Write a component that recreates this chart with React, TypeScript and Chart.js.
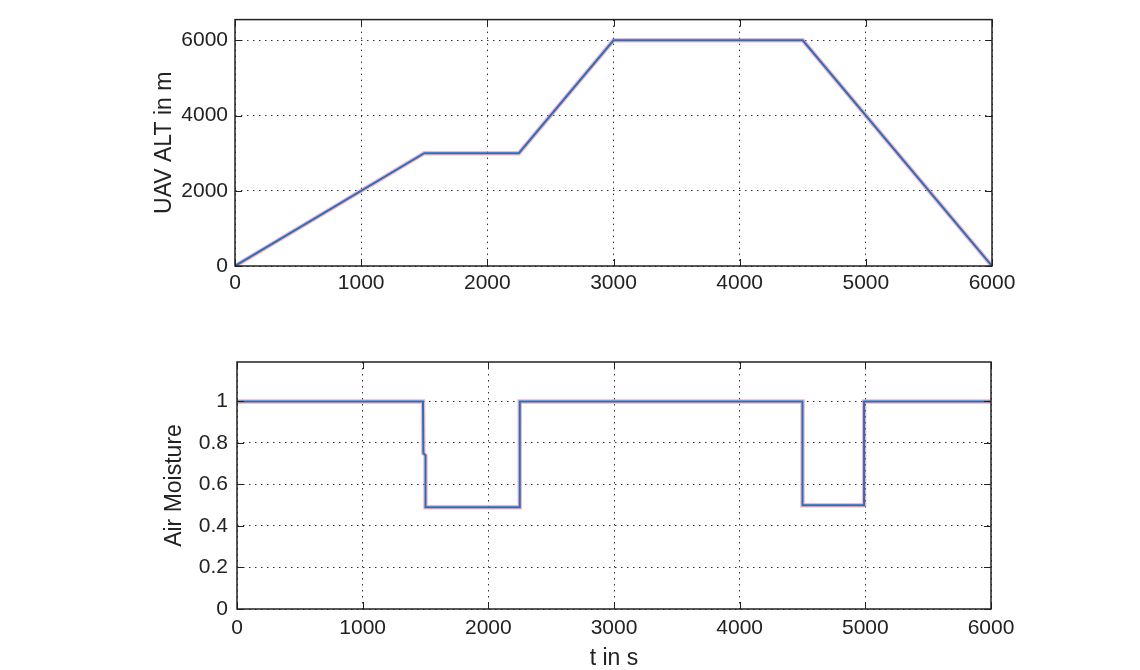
import React, { useEffect, useRef } from 'react';
import { Chart, registerables } from 'chart.js';

Chart.register(...registerables);

// ---- data ----
const timeTicks = [0, 1000, 2000, 3000, 4000, 5000, 6000];
const altTicks = [0, 2000, 4000, 6000];
const moistTicks = [0, 0.2, 0.4, 0.6, 0.8, 1];

const altTime = [0, 1500, 2250, 3000, 4500, 6000];
const altValues = [0, 3000, 3000, 6000, 6000, 0];
const altRefValues = [0, 3000, 3000, 6000, 6000, 0];

const moistTime = [0, 1480, 1483, 1500, 1500, 2250, 2250, 4500, 4500, 4990, 4990, 6000];
const moistValues = [1, 1, 0.75, 0.74, 0.49, 0.49, 1, 1, 0.5, 0.5, 1, 1];
const moistRefValues = [1, 1, 0.75, 0.74, 0.49, 0.49, 1, 1, 0.5, 0.5, 1, 1];

const FONT = "'Liberation Sans', Arial, sans-serif";
const BLUE = '#1f72c4';
const PINK = 'rgba(240, 90, 110, 0.45)';

const framePlugin = {
  id: 'matlabFrame',
  afterDraw(chart: any) {
    const { ctx, chartArea: a, scales } = chart;
    ctx.save();
    ctx.strokeStyle = '#222';
    ctx.lineWidth = 1;
    const tl = 7;
    ctx.beginPath();
    for (const t of scales.x.ticks) {
      const px = Math.round(scales.x.getPixelForValue(t.value)) + 0.5;
      ctx.moveTo(px, a.bottom);
      ctx.lineTo(px, a.bottom - tl);
      ctx.moveTo(px, a.top);
      ctx.lineTo(px, a.top + tl);
    }
    for (const t of scales.y.ticks) {
      const py = Math.round(scales.y.getPixelForValue(t.value)) + 0.5;
      ctx.moveTo(a.left, py);
      ctx.lineTo(a.left + tl, py);
      ctx.moveTo(a.right, py);
      ctx.lineTo(a.right - tl, py);
    }
    ctx.stroke();
    ctx.lineWidth = 1.5;
    ctx.strokeRect(a.left, a.top, a.right - a.left, a.bottom - a.top);
    ctx.restore();
  },
};

function makePoints(xs: number[], ys: number[]) {
  return xs.map((x, i) => ({ x, y: ys[i] }));
}

type PanelCfg = {
  xs: number[];
  ys: number[];
  refYs: number[];
  yTicks: number[];
  yMax: number;
  yTitle: string;
  xTitle: string | null;
  padLeft: number;
  yAxisWidth: number;
  padTop: number;
  padRight: number;
  xAxisHeight: number;
  height: number;
  yTickPad: number;
  xTickPad: number;
};

function Panel({ cfg, top }: { cfg: PanelCfg; top: number }) {
  const ref = useRef<HTMLCanvasElement | null>(null);
  useEffect(() => {
    if (!ref.current) return;
    const chart = new Chart(ref.current, {
      type: 'line',
      data: {
        datasets: [
          {
            data: makePoints(cfg.xs, cfg.ys),
            borderColor: BLUE,
            borderWidth: 2,
            pointRadius: 0,
            fill: false,
            tension: 0,
          },
          {
            data: makePoints(cfg.xs, cfg.refYs),
            borderColor: PINK,
            borderWidth: 4.5,
            pointRadius: 0,
            fill: false,
            tension: 0,
          },
        ],
      },
      options: {
        responsive: false,
        animation: false,
        devicePixelRatio: 1,
        layout: {
          padding: { left: cfg.padLeft, top: cfg.padTop, right: cfg.padRight, bottom: 0 },
        },
        plugins: { legend: { display: false }, tooltip: { enabled: false } },
        scales: {
          x: {
            type: 'linear',
            min: timeTicks[0],
            max: timeTicks[timeTicks.length - 1],
            afterBuildTicks: (s: any) => {
              s.ticks = timeTicks.map((v) => ({ value: v }));
            },
            afterFit: (s: any) => {
              s.height = cfg.xAxisHeight;
            },
            grid: { color: '#333', lineWidth: 1, drawTicks: false },
            border: { display: false, dash: [1.5, 4.5] },
            ticks: {
              color: '#222',
              font: { family: FONT, size: 21 },
              padding: cfg.xTickPad,
              maxRotation: 0,
              autoSkip: false,
              callback: (v: any) => String(v),
            },
            title: cfg.xTitle
              ? {
                  display: true,
                  text: cfg.xTitle,
                  color: '#222',
                  font: { family: FONT, size: 23 },
                  padding: { top: 0, bottom: -2 },
                }
              : { display: false },
          },
          y: {
            type: 'linear',
            min: 0,
            max: cfg.yMax,
            afterBuildTicks: (s: any) => {
              s.ticks = cfg.yTicks.map((v) => ({ value: v }));
            },
            afterFit: (s: any) => {
              s.width = cfg.yAxisWidth;
            },
            grid: { color: '#333', lineWidth: 1, drawTicks: false },
            border: { display: false, dash: [1.5, 4.5] },
            ticks: {
              color: '#222',
              font: { family: FONT, size: 21 },
              padding: cfg.yTickPad,
              autoSkip: false,
              callback: (v: any) => String(v),
            },
            title: {
              display: true,
              text: cfg.yTitle,
              color: '#222',
              font: { family: FONT, size: 23 },
              padding: { top: 4, bottom: 0 },
            },
          },
        },
      },
      plugins: [framePlugin],
    } as any);
    return () => chart.destroy();
  }, []);
  return (
    <canvas
      ref={ref}
      width={1140}
      height={cfg.height}
      style={{ position: 'absolute', left: 0, top, width: 1140, height: cfg.height }}
    />
  );
}

const topCfg: PanelCfg = {
  xs: altTime,
  ys: altValues,
  refYs: altRefValues,
  yTicks: altTicks,
  yMax: 6550,
  yTitle: 'UAV ALT in m',
  xTitle: null,
  padLeft: 147,
  yAxisWidth: 88,
  padTop: 16,
  padRight: 148,
  xAxisHeight: 69,
  height: 335,
  yTickPad: 7,
  xTickPad: 5,
};

const bottomCfg: PanelCfg = {
  xs: moistTime,
  ys: moistValues,
  refYs: moistRefValues,
  yTicks: moistTicks,
  yMax: 1.19,
  yTitle: 'Air Moisture',
  xTitle: 't in s',
  padLeft: 157,
  yAxisWidth: 80,
  padTop: 27,
  padRight: 149,
  xAxisHeight: 61,
  height: 335,
  yTickPad: 9,
  xTickPad: 7,
};

export default function App() {
  return (
    <div
      style={{
        position: 'fixed',
        left: 0,
        top: 0,
        width: 1140,
        height: 670,
        background: '#fff',
        overflow: 'hidden',
      }}
    >
      <Panel cfg={topCfg} top={0} />
      <Panel cfg={bottomCfg} top={335} />
    </div>
  );
}
